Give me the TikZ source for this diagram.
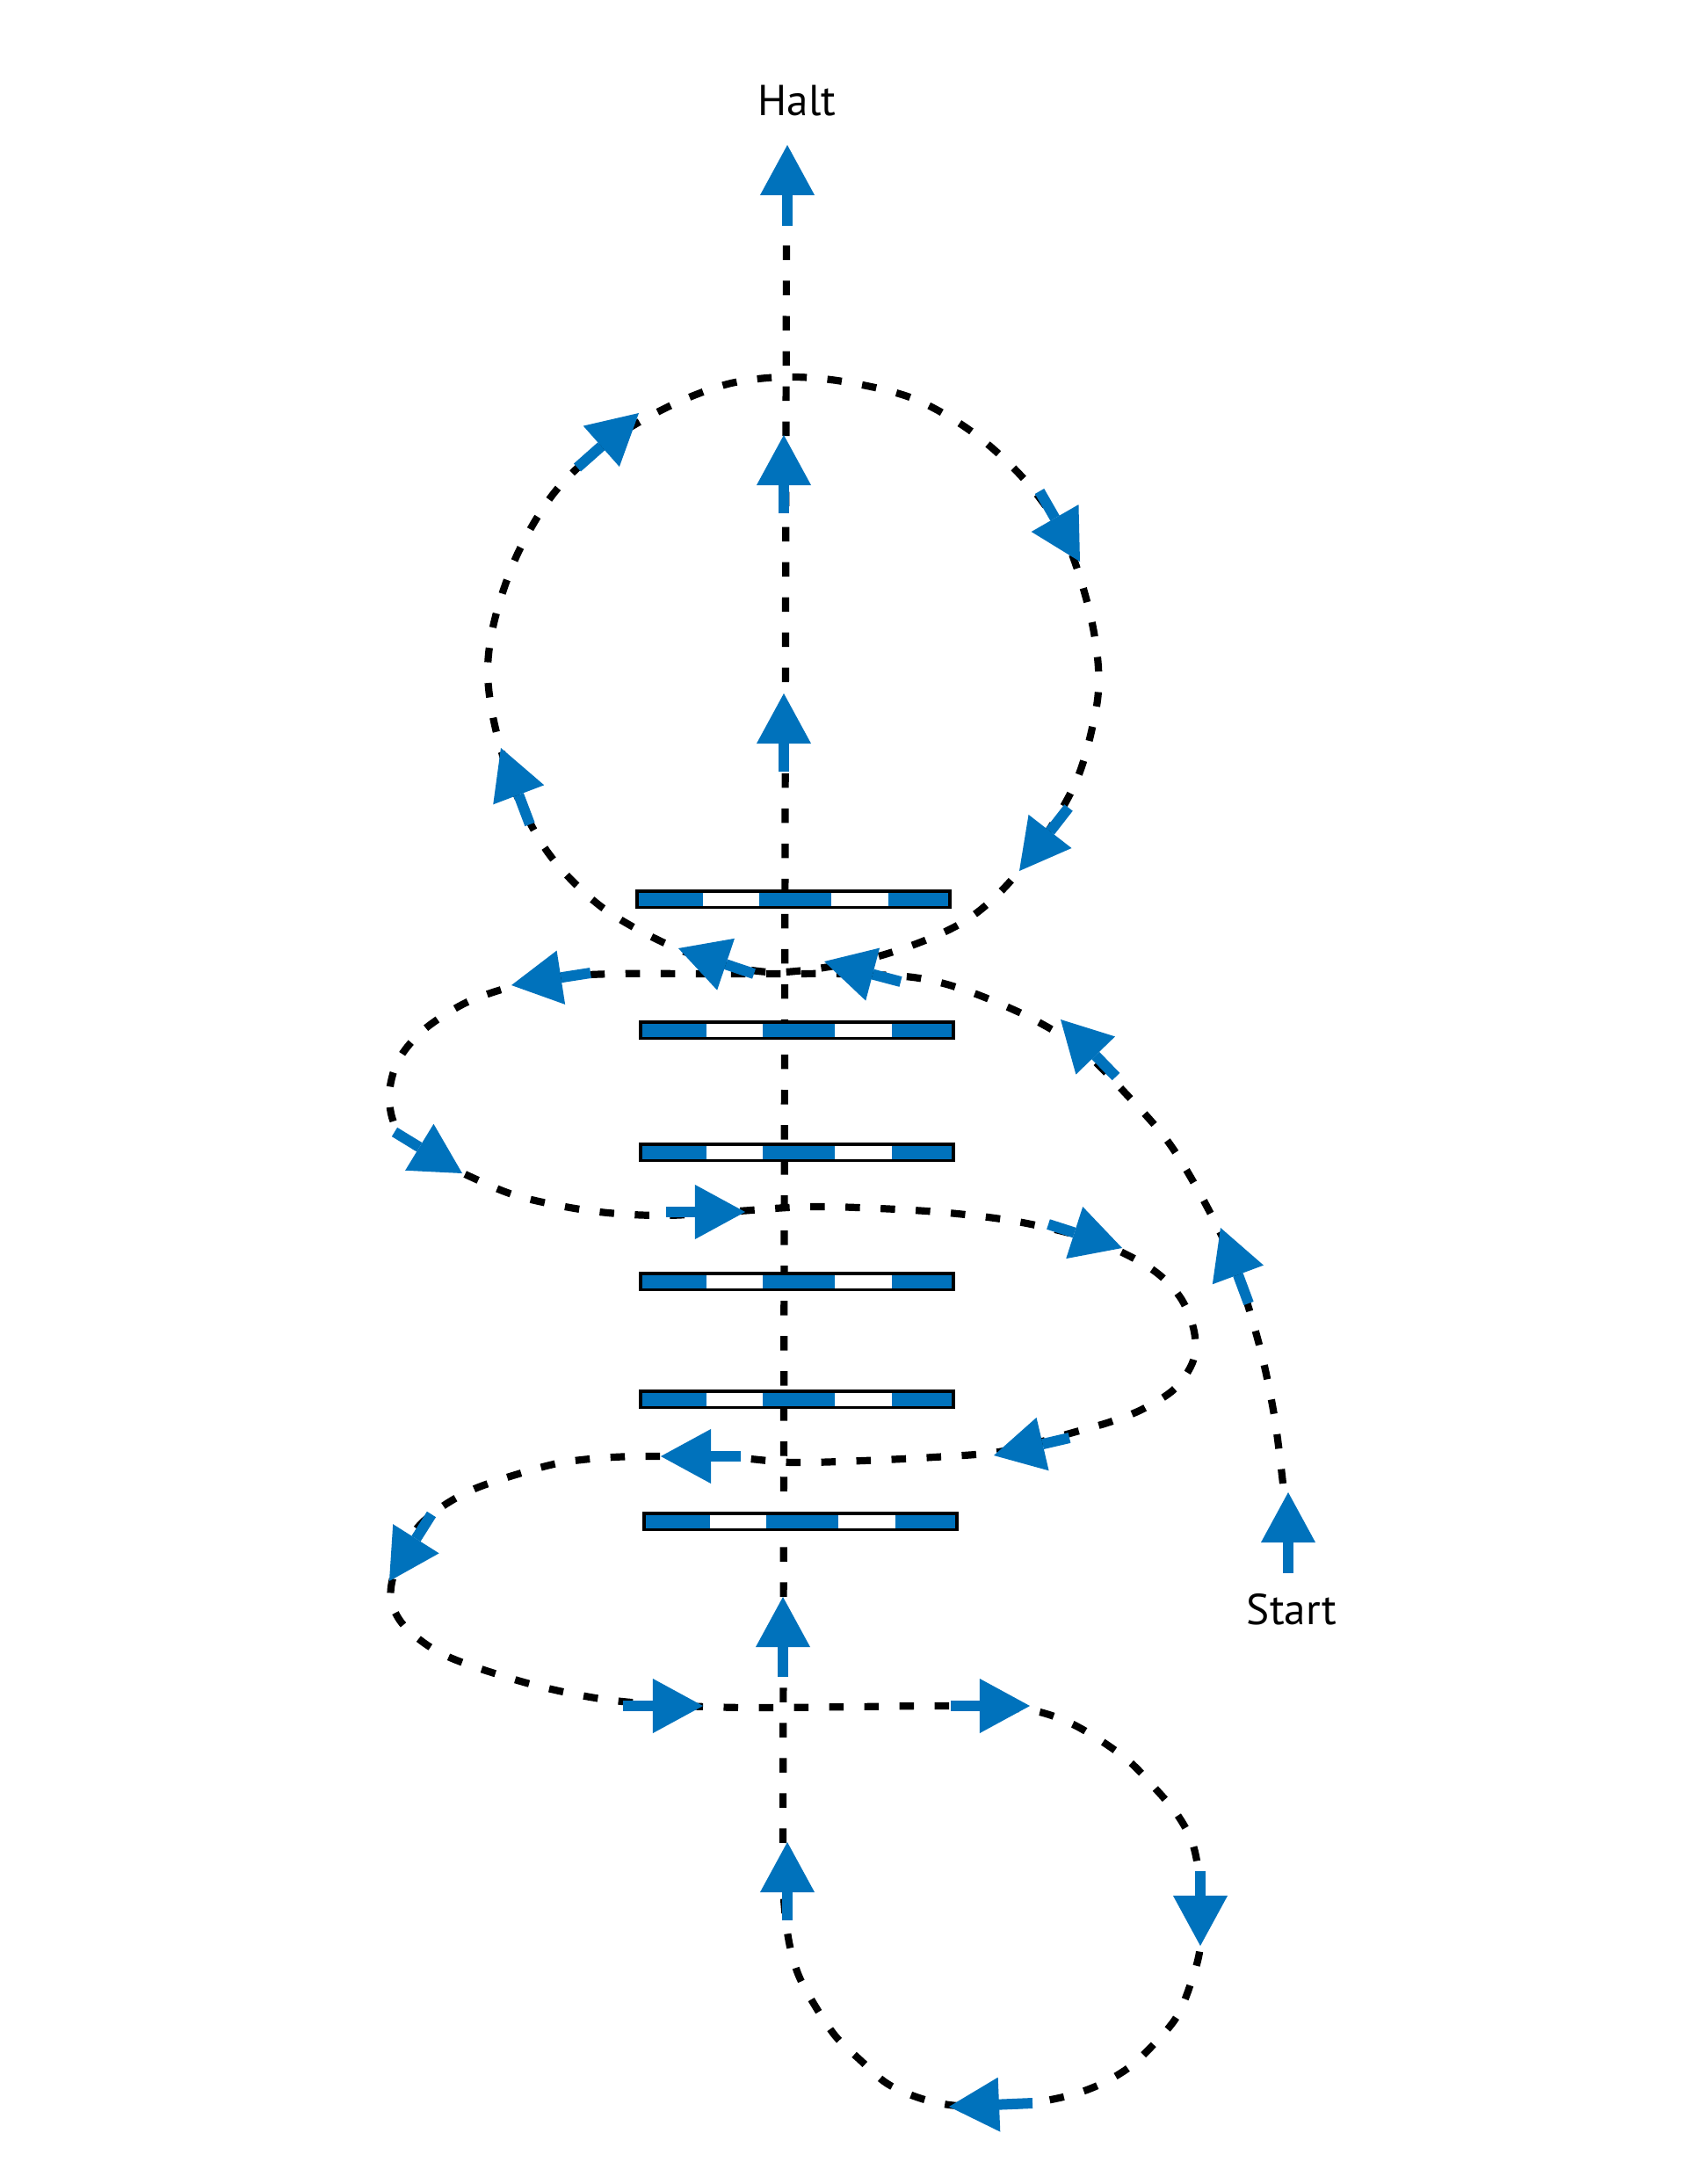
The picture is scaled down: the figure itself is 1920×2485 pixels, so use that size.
\documentclass[tikz,border=0pt]{standalone}
\usepackage{fontspec}
\setmainfont{PT Sans}
\usetikzlibrary{arrows.meta}
\definecolor{poleblue}{RGB}{0,114,188}
\begin{document}
\begin{tikzpicture}[x=0.01cm,y=-0.01cm,
  track/.style={black, line width=0.082cm, dash pattern=on 0.165cm off 0.235cm},
  barrow/.style={draw=poleblue, line width=0.12cm,
    -{Triangle[length=0.57cm,width=0.62cm,line width=0pt]}},
  label/.style={font=\fontsize{14}{16}\selectfont, anchor=base, inner sep=0pt},
  pole/.pic={
    \fill[black] (-180,-11) rectangle (180,11);
    \fill[poleblue] (-176,-7.5) rectangle (176,7.5);
    \fill[white] (-103,-7.5) rectangle (-39,7.5);
    \fill[white] (43,-7.5) rectangle (108,7.5);
  }]
\useasboundingbox (0,0) rectangle (1920,2485);
\fill[white] (0,0) rectangle (1920,2485);

% the circle (volte) at the top
\draw[track] plot[smooth cycle, tension=0.55] coordinates {
  (893,1106) (1000,1088) (1098,1048) (1165,985) (1222,895) (1246,814)
  (1250,760) (1239,692) (1212,612) (1168,548) (1107,492) (1038,453)
  (959,434) (893,429) (828,437) (760,463) (692,503) (632,559) (590,628)
  (564,701) (555,762) (563,825) (586,900) (625,972) (682,1030) (752,1071)
  (822,1097)};

% main track from Start to Halt
\draw[track] plot[smooth, tension=0.55] coordinates {
  (1460,1688) (1450,1610) (1433,1530) (1405,1440) (1372,1370) (1330,1300)
  (1279,1242) (1230,1193) (1182,1163) (1147,1146) (1108,1130) (1070,1118)
  (1030,1111) (960,1108) (893,1108) (800,1108) (700,1108) (630,1112)
  (584,1122) (530,1141) (482,1172) (453,1207) (443,1247) (452,1285)
  (487,1314) (540,1341) (593,1362) (674,1378) (754,1383) (840,1378)
  (919,1373) (1000,1375) (1079,1380) (1158,1390) (1235,1408) (1285,1429)
  (1320,1451) (1345,1479) (1359,1515) (1358,1548) (1337,1580) (1301,1603)
  (1263,1618) (1221,1630) (1175,1643) (1130,1653) (1063,1658) (982,1662)
  (902,1664) (840,1659) (760,1657) (698,1658) (640,1664) (590,1677)
  (540,1694) (505,1713) (477,1736) (458,1765) (446,1800) (446,1825)
  (460,1850) (491,1875) (530,1893) (607,1917) (684,1933) (760,1940)
  (850,1943) (972,1942) (1060,1941) (1130,1942) (1179,1947) (1217,1960)
  (1252,1980) (1285,2004) (1313,2033) (1340,2065) (1358,2100) (1366,2150)
  (1366,2214) (1355,2257) (1339,2295) (1313,2326) (1284,2353) (1249,2373)
  (1210,2386) (1150,2396) (1090,2396) (1049,2388) (1010,2371) (979,2344)
  (951,2317) (928,2283) (909,2248) (898,2210) (892,2160) (891,2100)}
  -- (895,262);

% poles
\pic (p1) at (903,1023) {pole};
\pic (p2) at (907,1172) {pole};
\pic (p3) at (907,1311) {pole};
\pic (p4) at (907,1458) {pole};
\pic (p5) at (907,1592) {pole};
\pic (p6) at (911,1731) {pole};

% direction arrows
\draw[barrow] (896,257) -- (896,165);
\draw[barrow] (892,584) -- (892,495);
\draw[barrow] (892,878) -- (892,789);
\draw[barrow] (657,532) -- (727,470);
\draw[barrow] (1183,559) -- (1229,639);
\draw[barrow] (1216,919) -- (1160,991);
\draw[barrow] (603,938) -- (570,851);
\draw[barrow] (858,1108) -- (772,1079);
\draw[barrow] (1025,1117) -- (938,1094);
\draw[barrow] (672,1107) -- (582,1121);
\draw[barrow] (449,1288) -- (526,1335);
\draw[barrow] (758,1379) -- (848,1379);
\draw[barrow] (1193,1393) -- (1277,1420);
\draw[barrow] (1270,1225) -- (1207,1160);
\draw[barrow] (1421,1483) -- (1389,1397);
\draw[barrow] (1466,1790) -- (1466,1698);
\draw[barrow] (1217,1636) -- (1131,1656);
\draw[barrow] (843,1657) -- (752,1657);
\draw[barrow] (491,1723) -- (443,1799);
\draw[barrow] (709,1941) -- (800,1941);
\draw[barrow] (1082,1941) -- (1172,1941);
\draw[barrow] (891,1908) -- (891,1817);
\draw[barrow] (1366,2129) -- (1366,2214);
\draw[barrow] (1175,2393) -- (1080,2397);
\draw[barrow] (896,2185) -- (896,2096);

% labels
\node[label] (halt) at (907,132) {Halt};
\node[label] (start) at (1470,1848) {Start};
\end{tikzpicture}
\end{document}
